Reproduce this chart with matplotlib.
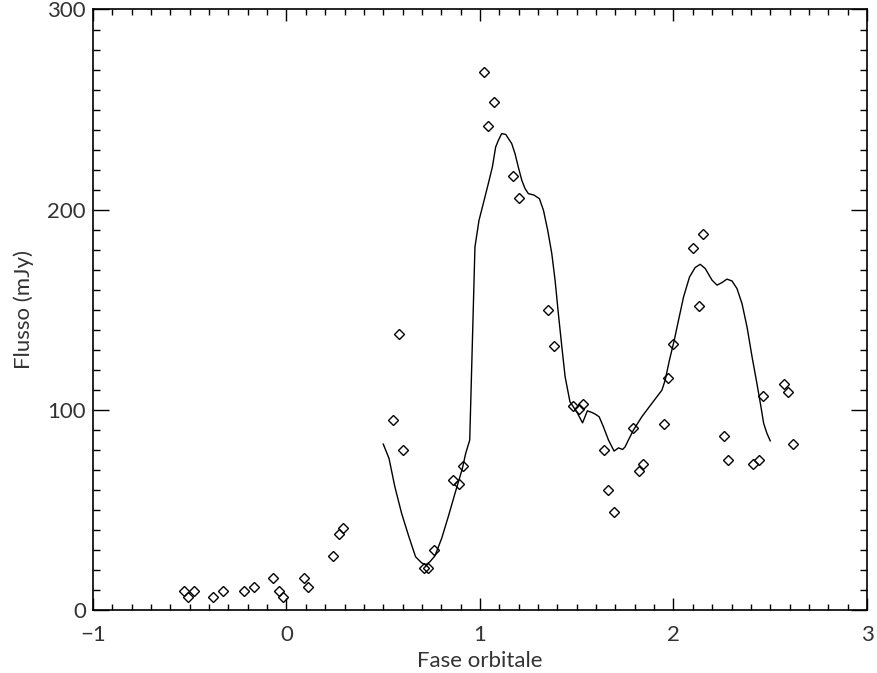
# plot.py
# Flux vs orbital phase: observed points (diamonds) and model curve

import matplotlib
matplotlib.use('Agg')
import matplotlib.pyplot as plt
from matplotlib.ticker import MultipleLocator

# observed flux (mJy) vs orbital phase
phase_obs = [-0.53, -0.51, -0.48, -0.38, -0.33, -0.22, -0.17, -0.07, -0.04, -0.02,
             0.09, 0.11, 0.24, 0.27, 0.29, 0.55, 0.58, 0.60, 0.71, 0.73, 0.76,
             0.86, 0.89, 0.91, 1.02, 1.04, 1.07, 1.17, 1.20, 1.35, 1.38,
             1.48, 1.51, 1.53, 1.64, 1.66, 1.69, 1.79, 1.82, 1.84, 1.95, 1.97,
             2.00, 2.10, 2.13, 2.15, 2.26, 2.28, 2.41, 2.44, 2.46, 2.57, 2.59, 2.62]
flux_obs = [9.6, 6.6, 9.6, 6.6, 9.6, 9.6, 11.6, 15.8, 9.6, 6.6,
            15.8, 11.6, 27.0, 37.8, 41.1, 94.9, 137.9, 79.7, 21.1, 20.8, 29.8,
            64.9, 62.7, 71.9, 268.9, 242.0, 254.0, 216.8, 206.0, 149.9, 131.9,
            102.0, 100.3, 102.8, 79.9, 59.8, 48.9, 91.0, 69.5, 72.9, 92.9, 115.7,
            132.8, 180.9, 151.8, 187.9, 86.9, 74.7, 72.7, 74.7, 106.8, 113.0, 108.8, 83.0]

# model curve
phase_mod = [0.500, 0.530, 0.560, 0.595, 0.630, 0.667, 0.698, 0.719, 0.741, 0.767,
             0.802, 0.836, 0.871, 0.909, 0.926, 0.947, 0.974, 0.995, 1.017, 1.043,
             1.064, 1.081, 1.095, 1.112, 1.133, 1.164, 1.181, 1.198, 1.216, 1.233,
             1.250, 1.279, 1.307, 1.328, 1.350, 1.371, 1.388, 1.405, 1.423, 1.440,
             1.465, 1.500, 1.530, 1.555, 1.578, 1.595, 1.616, 1.638, 1.664, 1.693,
             1.716, 1.737, 1.750, 1.767, 1.793, 1.836, 1.888, 1.940, 1.957, 1.979,
             2.004, 2.026, 2.052, 2.083, 2.112, 2.138, 2.164, 2.199, 2.225, 2.251,
             2.276, 2.302, 2.328, 2.354, 2.380, 2.406, 2.431, 2.452, 2.466, 2.483, 2.500]
flux_mod = [82.9, 75.7, 61.6, 48.3, 37.4, 26.6, 23.6, 22.5, 24.1, 27.0,
            35.8, 46.6, 58.3, 70.7, 78.2, 84.9, 181.4, 194.7, 203.0, 213.0,
            221.3, 231.3, 234.6, 238.0, 237.6, 233.0, 228.0, 221.3, 214.7, 210.5,
            208.0, 207.3, 205.5, 199.7, 189.7, 178.1, 164.8, 148.1, 131.5, 116.5,
            104.0, 99.0, 93.5, 99.5, 98.7, 97.9, 96.5, 91.5, 84.9, 79.4,
            81.0, 80.2, 81.5, 84.9, 89.9, 96.5, 103.2, 109.8, 114.8, 124.8,
            134.8, 144.8, 156.4, 166.4, 171.1, 172.7, 170.6, 164.8, 162.3, 163.6,
            165.3, 164.4, 160.6, 153.1, 141.4, 126.5, 113.2, 101.5, 93.2, 88.2, 84.5]

txt_color = '#333333'
plt.rcParams['font.family'] = ['Lato', 'DejaVu Sans']
plt.rcParams['font.weight'] = 'normal'

fig = plt.figure(figsize=(8.77, 6.73), dpi=100)
ax = fig.add_axes([0.106, 0.0936, 0.8826, 0.8923])

ax.plot(phase_mod, flux_mod, color='black', lw=1.0)
ax.plot(phase_obs, flux_obs, linestyle='none', marker='D', markersize=5.5,
        markerfacecolor='none', markeredgecolor='black', markeredgewidth=1.0)

ax.set_xlim(-1, 3)
ax.set_ylim(0, 300)
ax.xaxis.set_major_locator(MultipleLocator(1))
ax.xaxis.set_minor_locator(MultipleLocator(0.1))
ax.yaxis.set_major_locator(MultipleLocator(100))
ax.yaxis.set_minor_locator(MultipleLocator(10))
ax.xaxis.set_major_formatter(plt.FuncFormatter(lambda v, p: f'{v:.0f}'.replace('-', '\u2212')))

ax.tick_params(axis='both', which='both', direction='in', top=True, right=True,
               colors='black', labelcolor=txt_color, labelsize=16, width=1.0)
ax.tick_params(axis='x', which='major', length=8.6, pad=11)
ax.tick_params(axis='x', which='minor', length=4.3)
ax.tick_params(axis='y', which='major', length=11.3, pad=5)
ax.tick_params(axis='y', which='minor', length=5.3)
for s in ax.spines.values():
    s.set_linewidth(1.2)

ax.set_xlabel('Fase orbitale', fontsize=16, color=txt_color, labelpad=4)
ax.set_ylabel('Flusso (mJy)', fontsize=16, color=txt_color, labelpad=10)

fig.savefig('out.png', dpi=100)
